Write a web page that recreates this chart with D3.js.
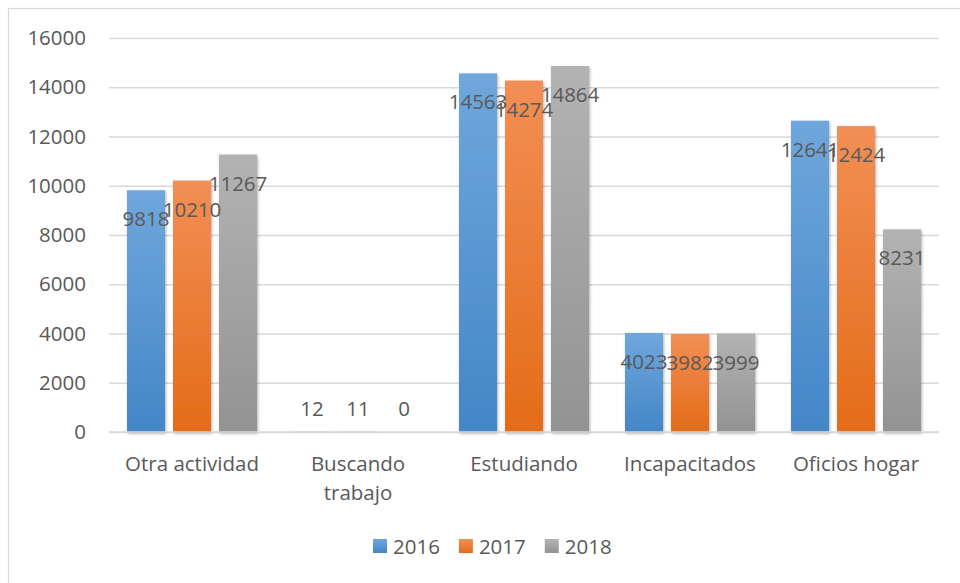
<!DOCTYPE html>
<html>
<head>
<meta charset="utf-8">
<script src="https://cdn.jsdelivr.net/npm/d3@7"></script>
<style>
  html, body { margin: 0; padding: 0; background: #fff; }
  svg { display: block; }
  text { font-family: "Open Sans", sans-serif; fill: #595959; }
</style>
</head>
<body>
<svg id="chart" width="960" height="583"></svg>
<script>
const categories = ["Otra actividad", "Buscando trabajo", "Estudiando", "Incapacitados", "Oficios hogar"];
const seriesNames = ["2016", "2017", "2018"];
const values2016 = [9818, 12, 14563, 4023, 12641];
const values2017 = [10210, 11, 14274, 3982, 12424];
const values2018 = [11267, 0, 14864, 3999, 8231];
const yTicks = [0, 2000, 4000, 6000, 8000, 10000, 12000, 14000, 16000];

const seriesValues = [values2016, values2017, values2018];
const colors = [
  { top: "#6fa7dc", bottom: "#4486c7", solid: "#5b9bd5" },
  { top: "#f28f55", bottom: "#e46c19", solid: "#ed7d31" },
  { top: "#b3b3b3", bottom: "#939393", solid: "#a5a5a5" }
];

const svg = d3.select("#chart");
const W = 960, H = 583;
const plot = { left: 109, right: 939, top: 38, bottom: 432 };
const fontSize = 20.5;

// defs: gradients + shadow
const defs = svg.append("defs");
colors.forEach((c, i) => {
  const g = defs.append("linearGradient").attr("id", "grad" + i)
    .attr("x1", 0).attr("y1", 0).attr("x2", 0).attr("y2", 1);
  g.append("stop").attr("offset", "0%").attr("stop-color", c.top);
  g.append("stop").attr("offset", "100%").attr("stop-color", c.bottom);
});
const f = defs.append("filter").attr("id", "shadow")
  .attr("x", "-20%").attr("y", "-5%").attr("width", "140%").attr("height", "110%");
f.append("feDropShadow").attr("dx", 1).attr("dy", 1.5).attr("stdDeviation", 1.6)
  .attr("flood-color", "#000").attr("flood-opacity", 0.3);

// chart border (only left & top visible)
svg.append("rect").attr("x", 8.5).attr("y", 8.5).attr("width", 1000).attr("height", 1000)
  .attr("fill", "none").attr("stroke", "#d9d9d9").attr("stroke-width", 1.2);

const x0 = d3.scaleBand().domain(categories).range([plot.left, plot.right]).padding(0);
const bw = x0.bandwidth();
const x1 = d3.scaleBand().domain(seriesNames)
  .range([bw * 18 / 166, bw - bw * 18 / 166]).paddingInner(8 / 46).paddingOuter(0);
const y = d3.scaleLinear().domain([0, 16000]).range([plot.bottom, plot.top]);

// gridlines
const yAxis = d3.axisLeft(y).tickValues(yTicks).tickSize(-(plot.right - plot.left)).tickPadding(23).tickFormat(d3.format("d"));
const ga = svg.append("g").attr("transform", `translate(${plot.left},0)`).call(yAxis);
ga.select(".domain").remove();
ga.selectAll(".tick line").attr("stroke", "#d9d9d9").attr("stroke-width", 1.3);
ga.selectAll(".tick text").attr("font-size", fontSize).attr("fill", "#595959")
  .attr("font-family", "'Open Sans', sans-serif");

// bars
const data = [];
categories.forEach((cat, ci) => {
  seriesNames.forEach((s, si) => {
    data.push({ cat, s, si, v: seriesValues[si][ci] });
  });
});

const bars = svg.append("g");
bars.selectAll("rect").data(data).join("rect")
  .attr("x", d => x0(d.cat) + x1(d.s))
  .attr("y", d => y(d.v))
  .attr("width", x1.bandwidth())
  .attr("height", d => y(0) - y(d.v))
  .attr("fill", d => `url(#grad${d.si})`)
  .attr("filter", "url(#shadow)");

// axis baseline
svg.append("line").attr("x1", plot.left).attr("x2", plot.right)
  .attr("y1", y(0)).attr("y2", y(0)).attr("stroke", "#d9d9d9").attr("stroke-width", 1.3);

// data labels
svg.append("g").selectAll("text").data(data).join("text")
  .attr("x", d => x0(d.cat) + x1(d.s) + x1.bandwidth() / 2)
  .attr("y", d => {
    const h = y(0) - y(d.v);
    return h > 40 ? y(d.v) + 28 : y(d.v) - 24;
  })
  .attr("dominant-baseline", "central")
  .attr("text-anchor", "middle")
  .attr("font-size", fontSize)
  .attr("fill", "#404040")
  .text(d => d.v);

// category labels with wrapping
const catG = svg.append("g");
categories.forEach(cat => {
  const t = catG.append("text")
    .attr("x", x0(cat) + bw / 2)
    .attr("y", 463)
    .attr("dominant-baseline", "central")
    .attr("text-anchor", "middle")
    .attr("font-size", fontSize)
    .text(cat);
  if (t.node().getComputedTextLength() > 150) {
    const words = cat.split(" ");
    t.text(null);
    words.forEach((w, i) => {
      t.append("tspan").attr("x", x0(cat) + bw / 2).attr("y", 463 + i * 29).text(w);
    });
  }
});

// legend
const legend = svg.append("g");
let lx = 373;
seriesNames.forEach((s, i) => {
  legend.append("rect").attr("x", lx).attr("y", 539).attr("width", 14).attr("height", 14)
    .attr("fill", `url(#grad${i})`);
  const t = legend.append("text").attr("x", lx + 20).attr("y", 546)
    .attr("dominant-baseline", "central").attr("font-size", fontSize).text(s);
  lx += 20 + t.node().getComputedTextLength() + 19;
});
</script>
</body>
</html>
